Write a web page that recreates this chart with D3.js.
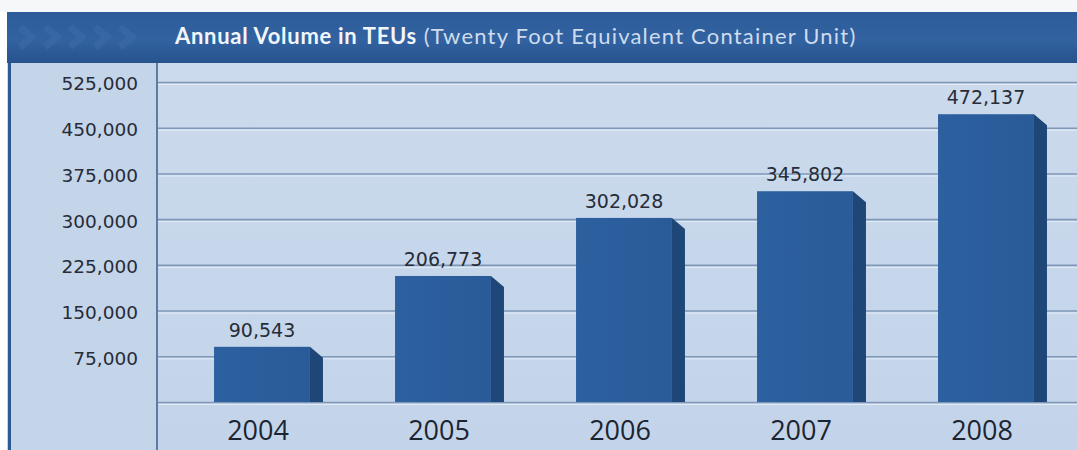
<!DOCTYPE html>
<html>
<head>
<meta charset="utf-8">
<script src="https://cdn.jsdelivr.net/npm/d3@7"></script>
<style>
  html, body { margin: 0; padding: 0; background: #ffffff; }
  svg { display: block; }
</style>
</head>
<body>
<svg id="chart" width="1077" height="450"></svg>
<script>
// Annual container volume, TEUs
const years = ["2004", "2005", "2006", "2007", "2008"];
const teus = [90543, 206773, 302028, 345802, 472137];
const valueLabels = ["90,543", "206,773", "302,028", "345,802", "472,137"];
const yTickValues = [75000, 150000, 225000, 300000, 375000, 450000, 525000];
const gridValues = [0, 75000, 150000, 225000, 300000, 375000, 450000, 525000];
const titleMain = "Annual Volume in TEUs";
const titleNote = " (Twenty Foot Equivalent Container Unit)";

const W = 1077, H = 450;
const svg = d3.select("#chart");

const defs = svg.append("defs");
const hg = defs.append("linearGradient").attr("id", "hdr").attr("x1", 0).attr("y1", 0).attr("x2", 0).attr("y2", 1);
hg.append("stop").attr("offset", "0%").attr("stop-color", "#2c5c9a");
hg.append("stop").attr("offset", "55%").attr("stop-color", "#3262a0");
hg.append("stop").attr("offset", "100%").attr("stop-color", "#26538d");

const bg = defs.append("linearGradient").attr("id", "panel").attr("x1", 0).attr("y1", 0).attr("x2", 0).attr("y2", 1);
bg.append("stop").attr("offset", "0%").attr("stop-color", "#cbdaec");
bg.append("stop").attr("offset", "100%").attr("stop-color", "#c3d4ea");

const fg = defs.append("linearGradient").attr("id", "front").attr("x1", 0).attr("y1", 0).attr("x2", 1).attr("y2", 0);
fg.append("stop").attr("offset", "0%").attr("stop-color", "#2c609f");
fg.append("stop").attr("offset", "100%").attr("stop-color", "#2a5b99");

// faint grey smudge along the very top
svg.append("rect").attr("x", 0).attr("y", 0).attr("width", W).attr("height", 12).attr("fill", "#f6f7f8");

// panel background
svg.append("rect").attr("x", 7).attr("y", 63).attr("width", W - 7).attr("height", H - 63).attr("fill", "url(#panel)");
svg.append("rect").attr("x", 11).attr("y", 63).attr("width", 146).attr("height", H - 63).attr("fill", "#c4d4e9");

// header band
svg.append("rect").attr("x", 7).attr("y", 12).attr("width", W - 7).attr("height", 51).attr("fill", "url(#hdr)");

// faint chevrons at the left of the header
const chev = svg.append("g").attr("fill", "none").attr("stroke", "#3a69a6").attr("stroke-width", 7).attr("opacity", 0.75);
for (let i = 0; i < 5; i++) {
  const cx = 20 + i * 25;
  chev.append("path").attr("d", `M${cx},27 L${cx + 12},37 L${cx},47`);
}

// title
const title = svg.append("text").attr("x", 175).attr("y", 44)
  .attr("font-family", "Lato, 'Open Sans', sans-serif");
title.append("tspan").attr("font-weight", "bold").attr("font-size", 22).attr("letter-spacing", 0.7)
  .attr("fill", "#f2f6fb").text(titleMain);
title.append("tspan").attr("font-size", 22).attr("letter-spacing", 1.2)
  .attr("fill", "#cfdcee").text(titleNote);

// scales
const plotLeft = 157, plotRight = W;
const y = d3.scaleLinear().domain([0, 525000]).range([402, 82]);
const x = d3.scaleBand().domain(years).range([171.5, 1076.5]).paddingInner(0.47).paddingOuter(0.235);
const depthX = 13, depthY = 11;

// gridlines
const grid = svg.append("g").attr("transform", `translate(${plotLeft},0)`)
  .call(d3.axisRight(y).tickValues(gridValues).tickSize(plotRight - plotLeft).tickFormat(""));
grid.select(".domain").remove();
grid.selectAll(".tick line").attr("stroke", "#7f98b8").attr("stroke-width", 1.6);
const gridHi = svg.append("g").attr("transform", `translate(${plotLeft},2)`)
  .call(d3.axisRight(y).tickValues(gridValues).tickSize(plotRight - plotLeft).tickFormat(""));
gridHi.select(".domain").remove();
gridHi.selectAll(".tick line").attr("stroke", "#e3ecf6").attr("stroke-width", 1);

// frame lines
svg.append("line").attr("x1", 9.5).attr("x2", 9.5).attr("y1", 63).attr("y2", H).attr("stroke", "#2b5a97").attr("stroke-width", 3);
svg.append("line").attr("x1", plotLeft).attr("x2", plotLeft).attr("y1", 63).attr("y2", H).attr("stroke", "#5f7ba1").attr("stroke-width", 2);

// y-axis labels
const yAxis = svg.append("g").attr("transform", "translate(138,2)")
  .call(d3.axisLeft(y).tickValues(yTickValues).tickSize(0).tickPadding(0).tickFormat(d3.format(",")));
yAxis.select(".domain").remove();
yAxis.selectAll("text").attr("font-family", "'DejaVu Sans', sans-serif").attr("font-size", 18.5).attr("fill", "#262c38");

// bars: front face + darker side face
const bars = svg.append("g").selectAll("g").data(years).join("g");
bars.append("path")
  .attr("d", (d, i) => {
    const xr = x(d) + x.bandwidth(), yt = y(teus[i]), yb = y(0);
    return `M${xr},${yt} L${xr + depthX},${yt + depthY} L${xr + depthX},${yb} L${xr},${yb} Z`;
  })
  .attr("fill", "#1e4677");
bars.append("rect")
  .attr("x", d => x(d))
  .attr("y", (d, i) => y(teus[i]))
  .attr("width", x.bandwidth())
  .attr("height", (d, i) => y(0) - y(teus[i]))
  .attr("fill", "url(#front)");

// value labels
svg.append("g").selectAll("text").data(years).join("text")
  .attr("x", d => x(d) + x.bandwidth() / 2)
  .attr("y", (d, i) => y(teus[i]) - 10)
  .attr("text-anchor", "middle")
  .attr("font-family", "'DejaVu Sans', sans-serif")
  .attr("font-size", 19)
  .attr("fill", "#262c38")
  .text((d, i) => valueLabels[i]);

// year labels
const xAxis = svg.append("g").attr("transform", "translate(-4,440)")
  .call(d3.axisBottom(x).tickSize(0).tickPadding(0));
xAxis.select(".domain").remove();
xAxis.selectAll("text").attr("dy", 0).attr("font-family", "'Open Sans', sans-serif").attr("font-size", 27).attr("fill", "#1c2431");
</script>
</body>
</html>
